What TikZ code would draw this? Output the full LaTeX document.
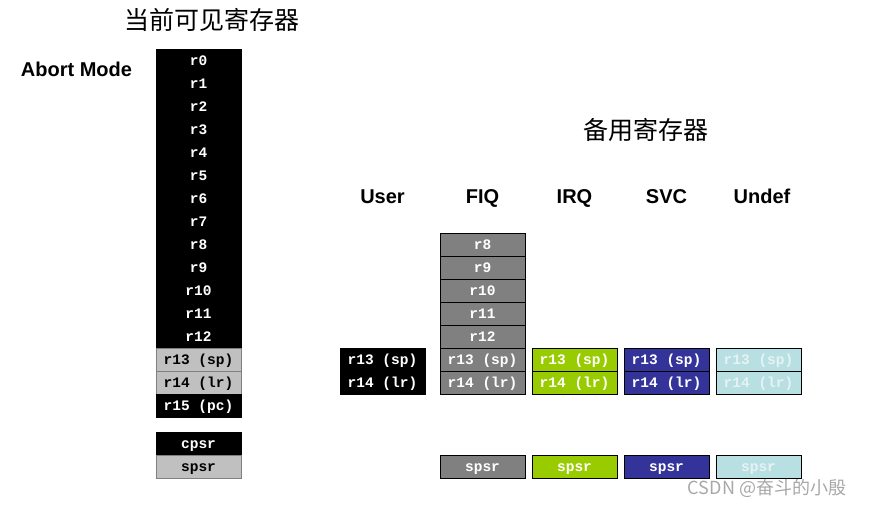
\documentclass[tikz,border=0pt]{standalone}
\usepackage{fontspec}
\setmainfont{Liberation Sans}
\newfontfamily\regmono{Liberation Mono}
\newfontfamily\cjk{Noto Sans CJK SC}
\usepackage{tikz}
\definecolor{cellgray}{HTML}{C0C0C0}
\definecolor{fiqgray}{HTML}{808080}
\definecolor{irqgreen}{HTML}{99CC00}
\definecolor{svcblue}{HTML}{333399}
\definecolor{undcyan}{HTML}{B8E0E3}
\definecolor{undtext}{HTML}{E6F2F3}
\definecolor{marktext}{HTML}{A8A8A8}
\tikzset{
    reg/.style={draw=black, line width=0.8pt, fill=black, text=white,
        minimum width=85pt, minimum height=23pt, inner sep=0pt,
        text height=11.5pt, text depth=2.5pt,
        font=\regmono\bfseries\fontsize{14.5}{15}\selectfont},
    banked/.style={reg, fill=cellgray, draw=fiqgray, text=black},
    fiqreg/.style={reg, fill=fiqgray},
    irqreg/.style={reg, fill=irqgreen},
    svcreg/.style={reg, fill=svcblue},
    undreg/.style={reg, fill=undcyan, text=undtext},
    modehead/.style={font=\bfseries\fontsize{20}{22}\selectfont,
        text height=15pt, text depth=4pt},
    cjktitle/.style={font=\cjk\fontsize{25}{27}\selectfont}
}
\begin{document}
\begin{tikzpicture}[x=1pt,y=-1pt]
        \useasboundingbox (0,0) rectangle (872,506);

        \node[cjktitle] (cur) at (211.5,20) {当前可见寄存器};
        \node[modehead] (abort) at (76.5,71) {Abort Mode};

        \node[reg] (r0) at (198.5,60.5) {r0};
        \node[reg] (r1) at (198.5,83.5) {r1};
        \node[reg] (r2) at (198.5,106.5) {r2};
        \node[reg] (r3) at (198.5,129.5) {r3};
        \node[reg] (r4) at (198.5,152.5) {r4};
        \node[reg] (r5) at (198.5,175.5) {r5};
        \node[reg] (r6) at (198.5,198.5) {r6};
        \node[reg] (r7) at (198.5,221.5) {r7};
        \node[reg] (r8) at (198.5,244.5) {r8};
        \node[reg] (r9) at (198.5,267.5) {r9};
        \node[reg] (r10) at (198.5,290.5) {r10};
        \node[reg] (r11) at (198.5,313.5) {r11};
        \node[reg] (r12) at (198.5,336.5) {r12};
        \node[banked] (r13) at (198.5,359.5) {r13 (sp)};
        \node[banked] (r14) at (198.5,382.5) {r14 (lr)};
        \node[reg] (r15) at (198.5,405.5) {r15 (pc)};

        \node[reg] (cpsr) at (198.5,443.5) {cpsr};
        \node[banked] (spsr) at (198.5,466.5) {spsr};

        \node[cjktitle] (bak) at (645.5,130) {备用寄存器};

        \node[modehead] (user) at (382.5,198) {User};
        \node[modehead] (fiq) at (482.5,198) {FIQ};
        \node[modehead] (irq) at (574.5,198) {IRQ};
        \node[modehead] (svc) at (666.5,198) {SVC};
        \node[modehead] (undef) at (762,198) {Undef};

        \node[reg] (usrr13) at (382.5,359.5) {r13 (sp)};
        \node[reg] (usrr14) at (382.5,382.5) {r14 (lr)};

        \node[fiqreg] (fiqr8) at (482.5,244.5) {r8};
        \node[fiqreg] (fiqr9) at (482.5,267.5) {r9};
        \node[fiqreg] (fiqr10) at (482.5,290.5) {r10};
        \node[fiqreg] (fiqr11) at (482.5,313.5) {r11};
        \node[fiqreg] (fiqr12) at (482.5,336.5) {r12};
        \node[fiqreg] (fiqr13) at (482.5,359.5) {r13 (sp)};
        \node[fiqreg] (fiqr14) at (482.5,382.5) {r14 (lr)};
        \node[fiqreg] (fiqspsr) at (482.5,466.5) {spsr};

        \node[irqreg] (irqr13) at (574.5,359.5) {r13 (sp)};
        \node[irqreg] (irqr14) at (574.5,382.5) {r14 (lr)};
        \node[irqreg] (irqspsr) at (574.5,466.5) {spsr};

        \node[svcreg] (svcr13) at (666.5,359.5) {r13 (sp)};
        \node[svcreg] (svcr14) at (666.5,382.5) {r14 (lr)};
        \node[svcreg] (svcspsr) at (666.5,466.5) {spsr};

        \node[undreg] (undr13) at (758.5,359.5) {r13 (sp)};
        \node[undreg] (undr14) at (758.5,382.5) {r14 (lr)};
        \node[undreg] (undspsr) at (758.5,466.5) {spsr};

        \node[text=marktext, font=\cjk\fontsize{18}{20}\selectfont] (mark) at (767,488) {CSDN @奋斗的小殷};
    \end{tikzpicture}
\end{document}
